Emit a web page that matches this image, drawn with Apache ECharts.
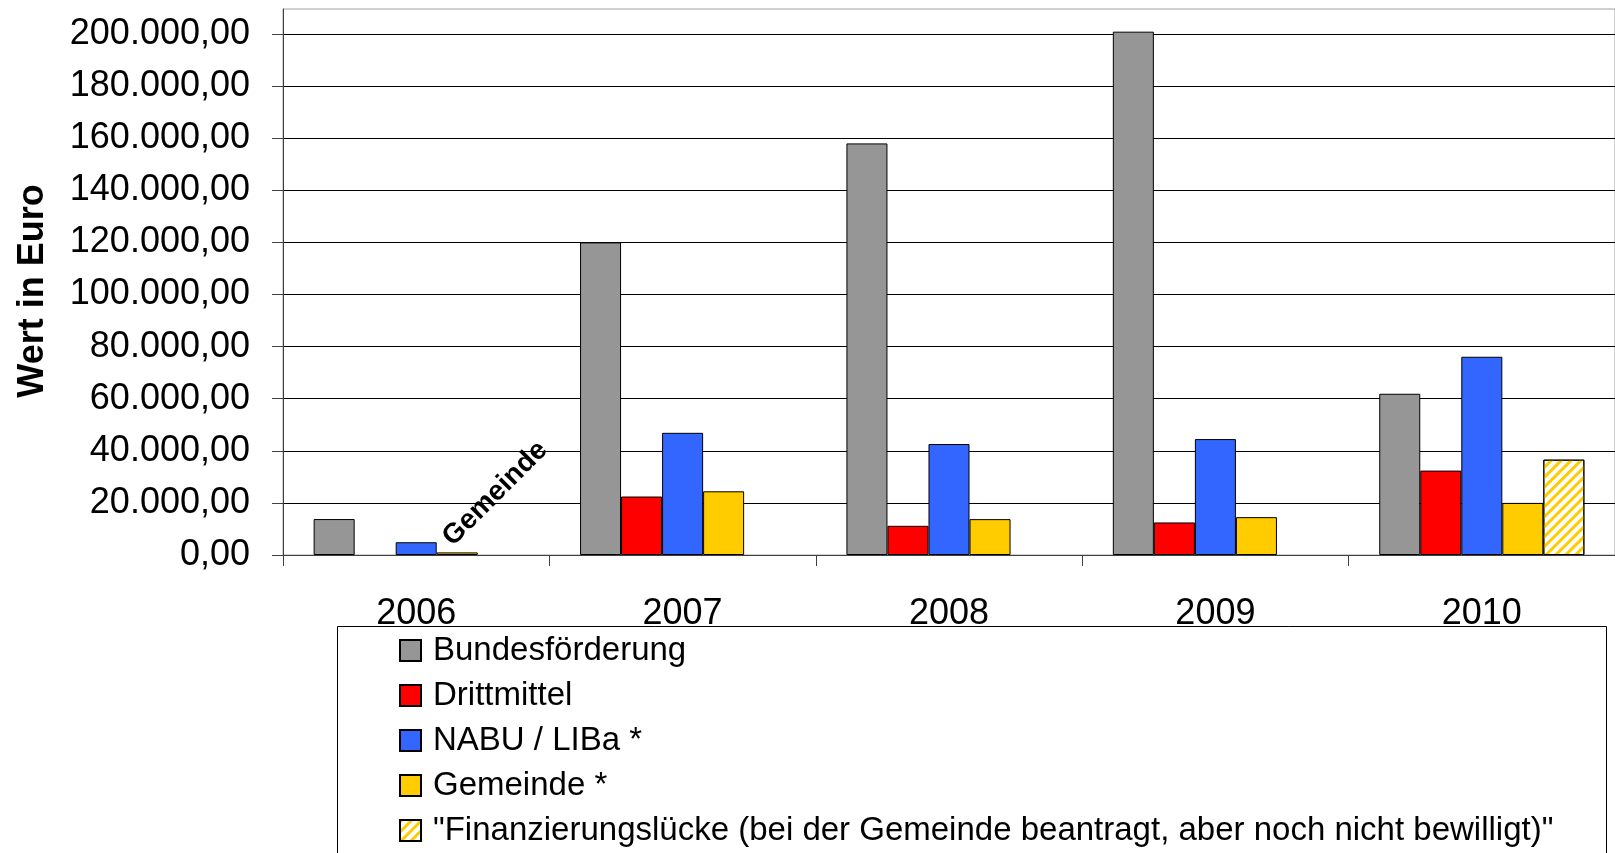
<!DOCTYPE html>
<html>
<head>
<meta charset="utf-8">
<script src="https://cdn.jsdelivr.net/npm/echarts@6/dist/echarts.min.js"></script>
<style>
html,body{margin:0;padding:0;background:#fff;}
#c{width:1615px;height:853px;}
</style>
</head>
<body>
<div id="c"></div>
<script>
const categories = ['2006', '2007', '2008', '2009', '2010'];
const seriesNames = ['Bundesförderung', 'Drittmittel', 'NABU / LIBa *', 'Gemeinde *', '"Finanzierungslücke (bei der Gemeinde beantragt, aber noch nicht bewilligt)"'];
const bundes = [13800, 120000, 158000, 200900, 61900];
const dritt = [null, 22450, 11200, 12500, 32400];
const nabu = [4900, 46900, 42600, 44500, 76100];
const gemeinde = [1000, 24450, 13770, 14530, 20000];
const luecke = [null, null, null, null, 36600];
const gemeindeLabel = 'Gemeinde';

const FONT = 'Liberation Sans, Arial, sans-serif';

function deFmt(v) {
  if (v % 20000 !== 0) return '';
  const s = String(Math.round(v)).replace(/\B(?=(\d{3})+(?!\d))/g, '.');
  return s + ',00';
}

const border = { borderColor: '#000', borderWidth: 1 };

const gemeindeData = gemeinde.map((v, i) => i === 0 ? {
  value: v,
  label: {
    show: true, formatter: gemeindeLabel, position: 'top', rotate: 45,
    align: 'left', verticalAlign: 'middle', distance: 18, offset: [-12, -2],
    fontFamily: FONT, fontWeight: 'bold', fontSize: 28, color: '#000'
  }
} : v);

const chart = echarts.init(document.getElementById('c'), null, { renderer: 'canvas' });
chart.setOption({
  animation: false,
  backgroundColor: '#fff',
  grid: { left: 283, right: 0, top: 9, bottom: 298, show: true, borderColor: '#a0a0a0', borderWidth: 1, containLabel: false },
  graphic: [{
    type: 'rect', left: 335, top: 624, silent: true, z: 0,
    shape: { width: 1269, height: 300 },
    style: { fill: 'none', stroke: '#000', lineWidth: 1 }
  }],
  xAxis: {
    type: 'category', data: categories,
    axisLine: { lineStyle: { color: '#404040', width: 1 } },
    axisTick: { show: true, length: 11, lineStyle: { color: '#404040' } },
    axisLabel: { fontFamily: FONT, fontSize: 36, color: '#000', margin: 41 },
    splitLine: { show: false }
  },
  yAxis: {
    type: 'value', min: 0, max: 209600, interval: 20000,
    name: 'Wert in Euro', nameLocation: 'middle', nameGap: 232, nameRotate: 90,
    nameTextStyle: { fontFamily: FONT, fontWeight: 'bold', fontSize: 36, color: '#000', padding: [0, 18, 0, 0] },
    axisLine: { show: true, lineStyle: { color: '#404040', width: 1 } },
    axisTick: { show: true, length: 11, lineStyle: { color: '#404040' } },
    axisLabel: { fontFamily: FONT, fontSize: 36, color: '#000', margin: 33, formatter: deFmt, showMaxLabel: false },
    splitLine: { show: true, showMaxLine: false, lineStyle: { color: '#000', width: 1 } }
  },
  legend: {
    orient: 'vertical', left: 399, top: 634,
    padding: 0,
    itemWidth: 21, itemHeight: 21, itemGap: 12, icon: 'rect',
    textStyle: { fontFamily: FONT, fontSize: 33, color: '#000', lineHeight: 33, padding: [0, 0, 0, 7] },
    data: seriesNames
  },
  series: [
    { name: seriesNames[0], type: 'bar', data: bundes, barGap: '0%', barCategoryGap: '23%', itemStyle: Object.assign({ color: '#969696' }, border) },
    { name: seriesNames[1], type: 'bar', data: dritt, itemStyle: Object.assign({ color: '#FF0000' }, border) },
    { name: seriesNames[2], type: 'bar', data: nabu, itemStyle: Object.assign({ color: '#3366FF' }, border) },
    { name: seriesNames[3], type: 'bar', data: gemeindeData, itemStyle: Object.assign({ color: '#FFCC00' }, border) },
    { name: seriesNames[4], type: 'bar', data: luecke, itemStyle: Object.assign({
        color: '#ffffff',
        decal: { symbol: 'rect', color: '#FFCC00', dashArrayX: [1, 0], dashArrayY: [3, 4], rotation: -Math.PI / 4, symbolSize: 1 }
      }, border) }
  ]
});
</script>
</body>
</html>
